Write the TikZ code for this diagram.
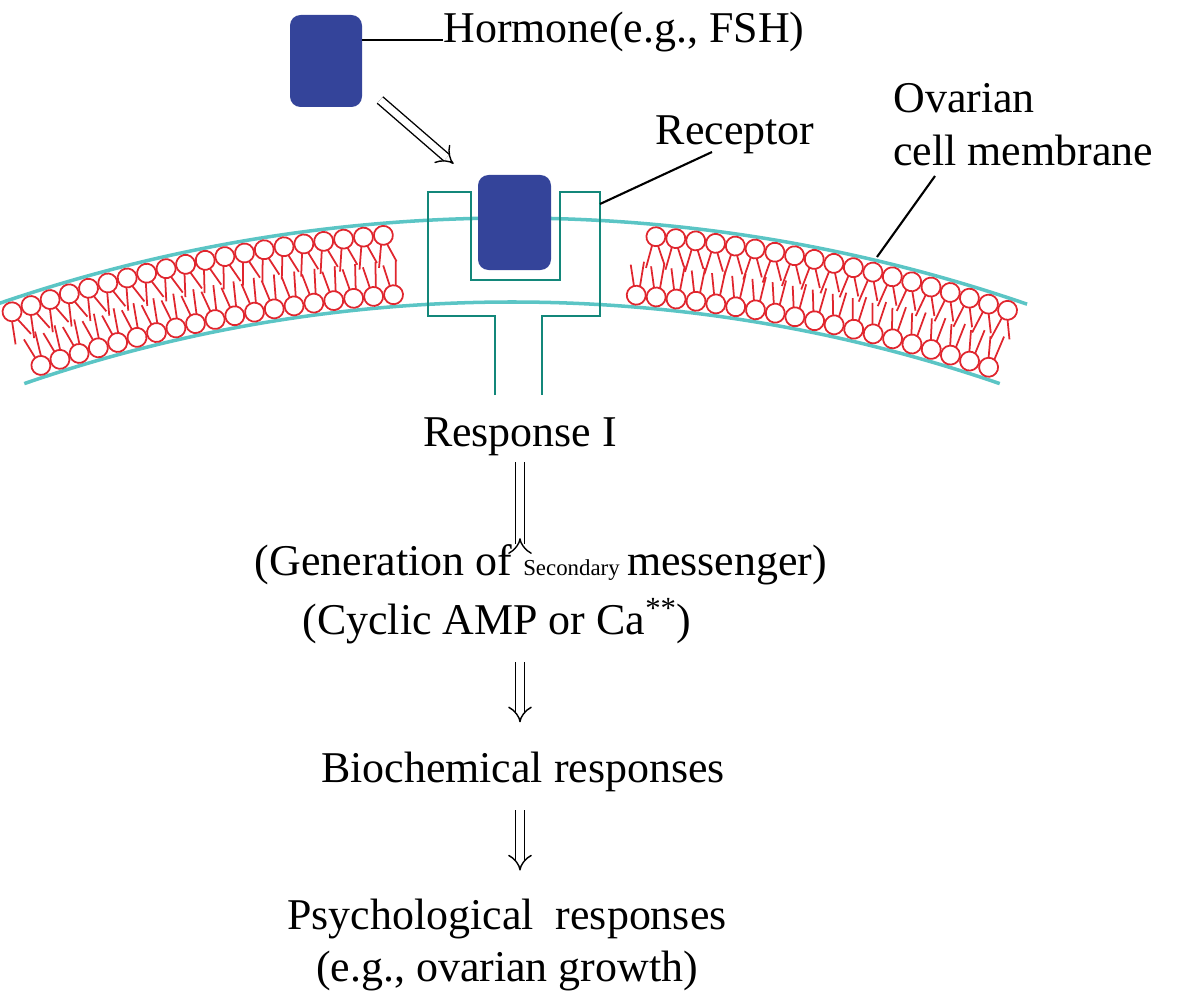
\documentclass[tikz,border=0pt]{standalone}
\usepackage{fontspec}
\setmainfont{Liberation Serif}
\usetikzlibrary{arrows.meta}
\definecolor{membr}{HTML}{5BC5C5}
\definecolor{lipid}{HTML}{E0262E}
\definecolor{recep}{HTML}{13877A}
\definecolor{horm}{HTML}{34449A}
\tikzset{
      label/.style = { font=\fontsize{25}{30}\selectfont, inner sep=0pt },
       flow/.style = { font=\fontsize{25}{30}\selectfont, align=center, inner sep=0pt },
   membrane/.style = { color=membr, line width=2pt },
   headball/.style = { draw=lipid, line width=1pt, fill=white },
       tail/.style = { draw=lipid, line width=1pt },
   hormbox/.style = { fill=horm, rounded corners=6pt },
  receptor/.style = { draw=recep, line width=1.7pt },
    pointer/.style = { line width=1.2pt },
     stepto/.style = { double, double distance=4pt, line width=0.8pt, -{Implies}, shorten >=1pt },
}
\begin{document}
\begin{tikzpicture}[x=0.02cm, y=-0.02cm]
  \useasboundingbox (0,0) rectangle (1181,1007);
  % membrane
  \coordinate (c) at (512,1800);
  \draw [membrane] (c) ++(-109:1582) arc (-109:-71:1582);
  \draw [membrane] (c) ++(-109:1498) arc (-109:-71:1498);
  % outer leaflet
  \foreach \a in {108.4,107.67,...,95} {
    \begin{scope}[shift={(c)}, rotate=-\a+90]
      \draw [tail] (-3,-1561) -- (-7,-1538);
      \draw [tail] (3,-1561) -- (11,-1543);
      \draw [headball] (0,-1570) circle (9.5);
    \end{scope}
  }
  \foreach \a in {85.3,84.57,...,71.3} {
    \begin{scope}[shift={(c)}, rotate=-\a+90]
      \draw [tail] (-3,-1561) -- (-7,-1538);
      \draw [tail] (3,-1561) -- (11,-1543);
      \draw [headball] (0,-1570) circle (9.5);
    \end{scope}
  }
  % inner leaflet
  \foreach \a in {108.4,107.64,...,94.4} {
    \begin{scope}[shift={(c)}, rotate=-\a+90]
      \draw [tail] (-3,-1519) -- (-8,-1540);
      \draw [tail] (3,-1519) -- (5,-1544);
      \draw [headball] (0,-1510) circle (9.5);
    \end{scope}
  }
  \foreach \a in {85.5,84.74,...,71.3} {
    \begin{scope}[shift={(c)}, rotate=-\a+90]
      \draw [tail] (-3,-1519) -- (-8,-1540);
      \draw [tail] (3,-1519) -- (5,-1544);
      \draw [headball] (0,-1510) circle (9.5);
    \end{scope}
  }
  % receptor
  \draw [receptor] (495,395) -- (495,316) -- (428,316) -- (428,192) -- (471,192)
    -- (471,280) -- (560,280) -- (560,192) -- (600,192) -- (600,316)
    -- (542,316) -- (542,395);
  \coordinate (rec) at (600,204);
  \node [hormbox, minimum width=73*0.02cm, minimum height=95*0.02cm] (bound) at (514.5,222.5) {};
  \node [hormbox, minimum width=72*0.02cm, minimum height=92*0.02cm] (hormone) at (326,61) {};
  % labels
  \node [label, anchor=west] (hlab) at (443,32) {Hormone(e.g., FSH)};
  \draw [pointer] (hormone.east |- 0,40) -- (hlab.west |- 0,40);
  \node [label] (rlab) at (735,135) {Receptor};
  \draw [pointer] (rec) -- (712,152);
  \node [label, align=left, anchor=west] (mlab) at (893,125) {Ovarian\\cell membrane};
  \coordinate (mem) at (877,257);
  \draw [pointer] (mem) -- (935,176);
  \coordinate (hs) at (380,100);
  \coordinate (ht) at (455,165);
  \draw [stepto] (hs) -- (ht);
  % flow
  \node [flow] (r1) at (520,437) {Response I};
  \node [flow] (gen) at (541,565) {(Generation of {\fontsize{13}{15}\selectfont Secondary}\,messenger)};
  \node [flow] (camp) at (497,621) {(Cyclic AMP or Ca\textsuperscript{**})};
  \node [flow] (bio) at (523,772) {Biochemical responses};
  \node [flow] (psy) at (507,945) {Psychological \ responses\\(e.g., ovarian growth)};
  \draw [stepto] (r1) ++(0,25) coordinate (a1) -- (a1 |- gen.north) ++(0,-8);
  \draw [stepto] (camp.south -| r1) ++(0,18) coordinate (a2) -- +(0,62);
  \draw [stepto] (bio.south -| r1) ++(0,18) coordinate (a3) -- +(0,62);
\end{tikzpicture}
\end{document}
